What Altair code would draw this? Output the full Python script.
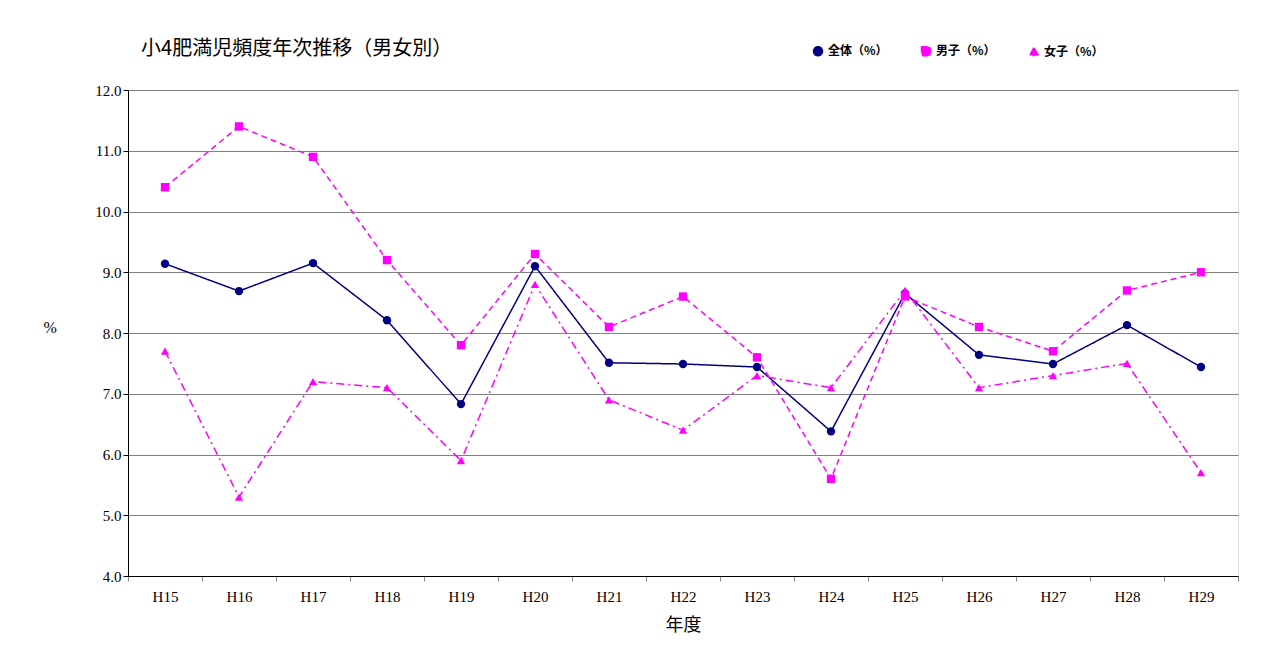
import altair as alt
import pandas as pd

years = ["H15","H16","H17","H18","H19","H20","H21","H22","H23","H24","H25","H26","H27","H28","H29"]
total = [9.14,8.69,9.15,8.21,6.83,9.10,7.51,7.49,7.44,6.38,8.65,7.64,7.49,8.13,7.44]
boys = [10.4,11.4,10.9,9.2,7.8,9.3,8.1,8.6,7.6,5.6,8.6,8.1,7.7,8.7,9.0]
girls = [7.7,5.3,7.2,7.1,5.9,8.8,6.9,6.4,7.3,7.1,8.7,7.1,7.3,7.5,5.7]
series = ["全体（%）","男子（%）","女子（%）"]

rows = []
for name, vals in zip(series, [total, boys, girls]):
    for y, v in zip(years, vals):
        rows.append({"年度": y, "値": v, "系列": name})
df = pd.DataFrame(rows)

chart = alt.Chart(df).mark_line(point=alt.OverlayMarkDef(size=70, filled=True, opacity=1), strokeWidth=1.5).encode(
    x=alt.X("年度:N", sort=years, title="年度",
            scale=alt.Scale(type="band", paddingInner=0, paddingOuter=0),
            axis=alt.Axis(labelAngle=0, bandPosition=0, tickBand="extent", grid=False,
                          labelFont="Liberation Serif", labelFontSize=15, labelColor="black",
                          titleFont="Noto Sans CJK JP", titleFontSize=18, titleFontWeight="normal",
                          titlePadding=12, domainColor="black", tickColor="#888", labelPadding=8)),
    y=alt.Y("値:Q", title="%", scale=alt.Scale(domain=[4, 12]),
            axis=alt.Axis(values=[4,5,6,7,8,9,10,11,12], format=".1f", gridColor="#808080",
                          labelFont="Liberation Serif", labelFontSize=15, labelColor="black",
                          titleAngle=0, titleFont="Liberation Serif", titleFontSize=16,
                          titleFontWeight="normal", titlePadding=45, titleY=245,
                          domainColor="black", tickColor="black", tickSize=5)),
    color=alt.Color("系列:N", sort=series,
                    scale=alt.Scale(domain=series, range=["#000080", "#FF00FF", "#FF00FF"]),
                    legend=alt.Legend(title=None, orient="none", legendX=684, legendY=-45,
                                      direction="horizontal", labelFont="Noto Sans CJK JP",
                                      labelFontSize=12, labelFontWeight="bold", columnPadding=30,
                                      symbolSize=80, labelColor="black")),
    shape=alt.Shape("系列:N", sort=series,
                    scale=alt.Scale(domain=series, range=["circle", "square", "triangle-up"])),
    strokeDash=alt.StrokeDash("系列:N", sort=series,
                              scale=alt.Scale(domain=series, range=[[1, 0], [6, 4], [8, 4, 2, 4]])),
).properties(
    width=1110, height=486,
    title=alt.TitleParams("小4肥満児頻度年次推移（男女別）", anchor="start", dx=98, dy=18,
                          font="Noto Sans CJK JP", fontSize=20, fontWeight="normal")
).configure_view(stroke="black", strokeWidth=1.5).configure(
    padding={"left": 120, "top": 82, "right": 20, "bottom": 70}, autosize="none"
)

chart.save("out.html", embed_options={"renderer": "svg", "actions": False})
